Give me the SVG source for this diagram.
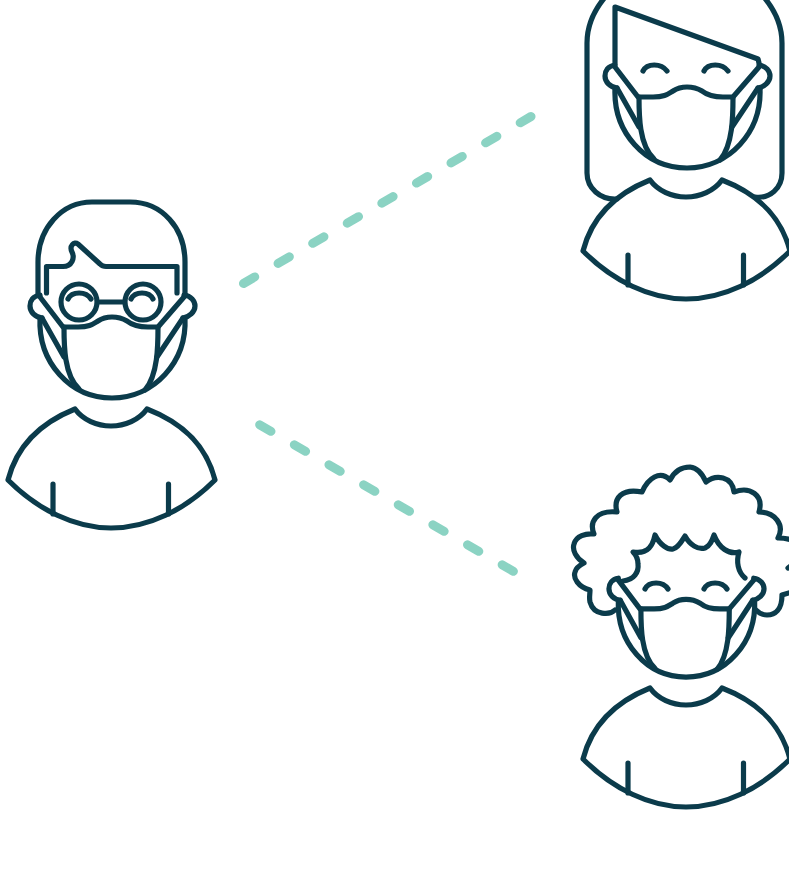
<svg xmlns="http://www.w3.org/2000/svg" xmlns:xlink="http://www.w3.org/1999/xlink" width="789" height="875" viewBox="0 0 789 875">
<style>
.l{fill:none;stroke:#0b3b4b;stroke-width:5.2;stroke-linecap:round;stroke-linejoin:round}
.l *{vector-effect:non-scaling-stroke}
.d{fill:none;stroke:#8bd3c3;stroke-width:9;stroke-linecap:round;stroke-dasharray:13 27}
</style>
<defs>
<g id="body" class="l">
<path d="M8,480 C18,441 45,421 75,409 C83,420 97,426 111,426 C125,426 139,420 147,409 C178,421 205,441 215,480 C185,510 148,528 111,528 C75,528 38,510 8,480 Z"/>
<path d="M53,484 V514 M168.500,484 V514"/>
</g>
<g id="headmask" class="l">
<path d="M40,318 C38,362 70,398 112,398 C154,398 187,362 185,318"/>
<path d="M40,295 C33,296 30,301 30,306 C30,312 35,317 42,318 M184,295 C191,296 195,301 195,306 C195,312 189,317 183,318"/>
<path d="M40,297 L63,327 H78 C90,327 93,324 98,321 C104,317 108,317 112,317 C118,317 122,318 127,321 C132,325 138,327 148,327 H158 L184,297"/>
<path d="M64,327 C64,345 64,375 79,389 M158,327 C158,345 158,375 145,390"/>
<path d="M42,318 L64,357 M183,318 L157,357"/>
</g>
</defs>
<g id="connectors">
<path class="d" d="M243.500,283.500 L531,116.500"/>
<path class="d" d="M259.700,424.800 L513.400,571.300"/>
</g>
<g id="person-left">
<use href="#body"/>
<use href="#headmask"/>
<g class="l">
<path d="M38,294 V262 C38,228 62,202 92,202 H130 C162,202 185,228 185,262 V294"/>
<path d="M46.500,293 V266.500 H63 C72,266.500 75,258 72,252 C69,246 74,241 78,244 L100,264 C102,266 103,266.500 106,266.500 H177 V293"/>
<circle cx="79" cy="302" r="18"/>
<circle cx="143" cy="302" r="18"/>
<path d="M100,302 H124"/>
<path d="M68,299 C72,291 86,291 91,299 M131,299 C135,291 149,291 153,299"/>
</g>
</g>
<g id="person-top">
<use href="#body" x="575" y="-229"/>
<use href="#headmask" x="575" y="-230"/>
<g class="l">
<path d="M617,199 C600,200 587,188 587,173 V43 C587,25 594,10 606,-4 M755,197 C770,199 782,188 782,173 V43 C782,25 775,10 763,-4"/>
<path d="M615,64 V7 L758,59 L759,63"/>
<path d="M643,71 C647,63 661,63 667,71 M704,71 C708,63 722,63 728,71"/>
</g>
</g>
<g id="person-bottom">
<use href="#body" x="575" y="279"/>
<use href="#headmask" transform="translate(580.750,295) scale(.94,.96)"/>
<g class="l">
<path d="M615,610 C610,615 594,616 590,602 C589,598 590,594 590,590 C578,587 573,578 575,572 C576,568 580,565 584,563 C576,558 572,550 574,544 C576,536 586,533 594,534 C589,522 596,510 617,512 C613,498 622,488 642,492 C648,478 660,470 670,480 C675,470 683,467 690,467 C698,468 703,475 706,482 C716,474 732,476 734,492 C750,486 764,495 759,512 C775,512 785,525 778,538 C785,538 795,540 805,545 M788,568 L805,555 M782,595 L805,588 M782,595 C782,610 775,615 767,615 C763,615 759,613 756,610"/>
<path d="M623,581 C634,580 639,572 638,564 C638,559 636,555 633,552 C644,554 652,550 655,535 C660,545 668,550 673,549 C678,548 682,541 685,536 C690,545 698,550 705,548 C710,546 712,541 714,535 C719,548 729,555 739,552 C736,562 738,572 745,578"/>
<path d="M645,589 C649,581 663,581 668,589 M704,589 C708,581 722,581 727,589"/>
</g>
</g>
</svg>
